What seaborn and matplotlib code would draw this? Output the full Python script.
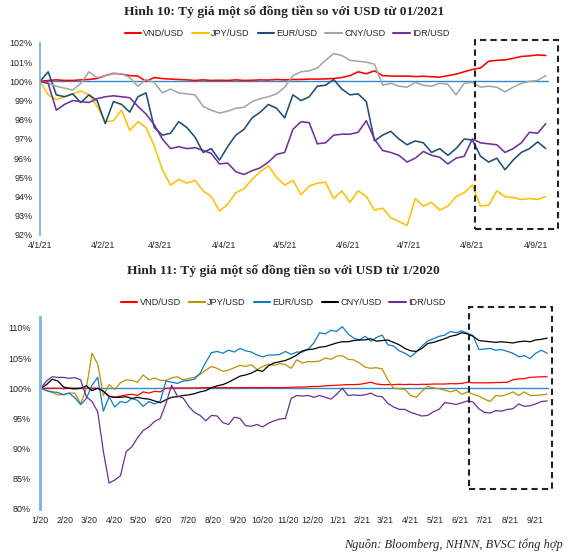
import pandas as pd
import matplotlib
matplotlib.use("Agg")
import matplotlib.pyplot as plt
import matplotlib.dates as mdates
from matplotlib.patches import Rectangle
from matplotlib.ticker import FuncFormatter
import seaborn as sns

# ---------- Hình 10: từ 01/2021 (one point every 4 days) ----------
dates_21 = pd.date_range("2021-01-04", periods=63, freq="4D")

vnd_21 = [100.0, 100.05, 100.08, 100.05, 100.05, 100.08, 100.1, 100.15, 100.3, 100.42,
          100.38, 100.3, 100.28, 100.0, 100.2, 100.15, 100.12, 100.1, 100.08, 100.05,
          100.08, 100.05, 100.06, 100.05, 100.08, 100.05, 100.06, 100.08, 100.07, 100.1,
          100.08, 100.1, 100.1, 100.12, 100.12, 100.13, 100.15, 100.2, 100.3, 100.5,
          100.4, 100.55, 100.3, 100.28, 100.27, 100.28, 100.25, 100.27, 100.24, 100.22,
          100.3, 100.38, 100.5, 100.62, 100.7, 101.05, 101.1, 101.12, 101.2, 101.3,
          101.33, 101.38, 101.35]
jpy_21 = [100.0, 99.3, 99.05, 99.2, 99.35, 99.5, 99.3, 98.7, 97.9, 97.95,
          98.5, 97.45, 97.9, 97.6, 96.65, 95.4, 94.6, 94.9, 94.7, 94.85,
          94.3, 94.0, 93.25, 93.6, 94.2, 94.4, 94.9, 95.3, 95.6, 95.0,
          94.6, 94.85, 94.1, 94.55, 94.7, 94.75, 93.9, 94.3, 93.7, 94.3,
          94.0, 93.3, 93.4, 92.9, 92.7, 92.5, 93.9, 93.5, 93.7, 93.3,
          93.5, 94.0, 94.2, 94.6, 93.5, 93.55, 94.3, 94.0, 93.95, 93.85,
          93.9, 93.85, 94.0]
eur_21 = [100.0, 100.5, 99.3, 99.2, 99.35, 98.9, 99.3, 99.0, 97.8, 98.95,
          98.8, 98.4, 99.2, 99.4, 97.6, 97.2, 97.3, 97.9, 97.6, 97.1,
          96.3, 96.5, 95.9, 96.6, 97.2, 97.5, 98.1, 98.4, 98.8, 98.6,
          98.1, 99.3, 99.0, 99.2, 99.75, 99.8, 100.1, 99.6, 99.3, 99.35,
          98.95, 96.9, 97.2, 97.4, 97.0, 96.7, 96.9, 96.8, 96.3, 96.5,
          96.15, 96.5, 97.0, 96.95, 96.1, 95.8, 96.0, 95.4, 95.9, 96.3,
          96.5, 96.85, 96.5]
cny_21 = [100.0, 99.9, 99.75, 99.65, 99.55, 99.9, 100.5, 100.2, 100.3, 100.4,
          100.4, 100.2, 99.75, 100.1, 99.95, 99.4, 99.6, 99.4, 99.35, 99.3,
          98.7, 98.5, 98.35, 98.45, 98.6, 98.65, 98.95, 99.1, 99.2, 99.35,
          99.7, 100.3, 100.5, 100.55, 100.7, 101.1, 101.45, 101.35, 101.1, 101.05,
          101.0, 100.9, 99.8, 99.9, 99.75, 99.7, 99.95, 99.8, 99.75, 99.9,
          99.85, 99.3, 99.9, 99.95, 99.7, 99.75, 99.7, 99.45, 99.7, 99.9,
          100.0, 100.05, 100.3]
idr_21 = [100.0, 99.9, 98.5, 98.8, 99.0, 98.95, 98.9, 99.1, 99.2, 99.25,
          99.2, 99.15, 98.7, 98.3, 97.75, 97.0, 96.5, 96.6, 96.5, 96.55,
          96.4, 96.25, 95.7, 95.75, 95.3, 95.15, 95.35, 95.5, 95.8, 96.2,
          96.3, 97.5, 97.9, 97.85, 96.75, 96.8, 97.2, 97.25, 97.25, 97.35,
          97.95, 97.0, 96.4, 96.3, 96.15, 95.8, 96.0, 96.35, 96.15, 96.05,
          95.7, 96.0, 96.1, 97.0, 96.8, 96.75, 96.7, 96.3, 96.5, 96.8,
          97.35, 97.3, 97.8]

# ---------- Hình 11: từ 1/2020 (weekly points) ----------
dates_20 = pd.date_range("2020-01-02", periods=90, freq="7D")

vnd_20 = [100.0, 100.0, 100.0, 100.0, 99.95, 100.0, 100.0, 100.0, 100.0, 100.0,
          100.0, 99.5, 98.6, 98.5, 98.7, 98.9, 99.0, 98.8, 99.4, 99.2,
          99.5, 99.4, 100.0, 100.05, 100.05, 100.05, 100.05, 100.05, 100.08, 100.1,
          100.08, 100.1, 100.1, 100.1, 100.08, 100.1, 100.1, 100.12, 100.1, 100.1,
          100.12, 100.1, 100.1, 100.12, 100.15, 100.2, 100.2, 100.25, 100.3, 100.3,
          100.4, 100.45, 100.5, 100.55, 100.6, 100.6, 100.65, 100.8, 101.0, 100.7,
          100.6, 100.6, 100.6, 100.65, 100.6, 100.65, 100.6, 100.65, 100.65, 100.7,
          100.7, 100.7, 100.75, 100.75, 100.8, 101.0, 100.9, 100.9, 100.9, 100.9,
          100.95, 100.95, 101.0, 101.4, 101.55, 101.6, 101.8, 101.85, 101.9, 101.9]
jpy_20 = [100.0, 99.6, 99.3, 98.9, 99.0, 99.2, 99.2, 97.4, 100.0, 105.8,
          104.0, 98.8, 100.6, 99.8, 100.9, 101.4, 101.3, 101.0, 102.2, 101.4,
          101.7, 101.3, 101.3, 101.7, 101.9, 101.4, 101.6, 101.8, 102.3, 103.0,
          103.6, 103.3, 102.8, 103.0, 103.4, 103.8, 103.6, 103.9, 103.1, 103.6,
          104.0, 103.8, 104.1, 103.9, 103.3, 104.7, 104.2, 104.4, 104.4, 104.5,
          105.0, 104.8, 105.3, 105.4, 104.8, 104.7, 104.2, 103.5, 103.3, 103.4,
          103.2, 101.4, 100.0, 99.9, 99.8, 98.8, 98.5, 99.5, 100.3, 100.1,
          99.9, 99.7, 99.4, 99.7, 99.0, 99.4, 99.0, 98.7, 98.2, 97.8,
          98.8, 98.7, 99.0, 99.4, 98.8, 99.4, 98.8, 98.8, 98.9, 99.0]
eur_20 = [100.0, 99.6, 99.4, 99.3, 98.9, 99.2, 98.4, 97.3, 98.3, 100.5,
          101.8, 96.2, 98.6, 96.9, 97.8, 97.6, 98.3, 98.0, 97.0, 97.8,
          97.4, 97.9, 101.2, 101.0, 100.8, 101.2, 101.3, 101.5, 102.5, 104.3,
          105.9, 106.1, 105.8, 106.3, 106.0, 106.6, 106.2, 106.0, 105.5, 105.2,
          105.5, 105.5, 105.6, 106.1, 105.6, 106.0, 106.0, 106.5, 107.5, 109.2,
          109.0, 109.6, 109.4, 110.2, 109.0, 108.3, 108.0, 108.6, 107.8, 108.4,
          108.8, 107.2, 107.0, 106.2, 105.8, 105.2, 106.0, 107.0, 107.8, 108.2,
          108.6, 108.8, 109.4, 109.2, 109.5, 109.1, 108.7, 106.4, 106.5, 106.6,
          106.3, 106.4, 106.1, 105.8, 105.2, 105.4, 104.9, 105.8, 106.3, 105.8]
cny_20 = [100.0, 100.6, 101.5, 101.2, 100.2, 100.0, 99.9, 100.0, 100.4, 99.6,
          100.0, 99.5, 98.7, 98.5, 98.5, 98.6, 98.3, 98.5, 98.3, 98.2,
          97.9, 97.6, 98.1, 98.5, 98.6, 98.8, 98.9, 99.1, 99.4, 99.6,
          100.1, 100.4, 100.6, 101.0, 101.5, 102.0, 102.2, 102.5, 103.0, 102.8,
          103.7, 104.2, 104.4, 104.6, 105.0, 105.5, 106.2, 106.4, 106.5, 106.8,
          106.9, 107.2, 107.5, 107.7, 107.7, 107.9, 108.0, 108.0, 108.2, 107.8,
          107.9, 108.0, 107.6, 107.2, 106.6, 106.2, 106.1, 106.6, 107.4, 107.6,
          107.9, 108.2, 108.6, 108.8, 109.2, 109.0, 108.6, 107.9, 107.8, 107.7,
          107.6, 107.7, 107.6, 107.5, 107.7, 107.8, 107.7, 108.0, 108.1, 108.3]
idr_20 = [100.0, 101.2, 101.9, 101.8, 101.8, 101.65, 101.75, 101.4, 98.6, 97.8,
          96.1, 89.5, 84.3, 84.8, 85.5, 89.5, 90.3, 91.8, 93.0, 93.6,
          94.5, 95.0, 97.5, 100.5, 98.7, 98.4, 97.0, 96.0, 95.5, 94.6,
          95.5, 95.4, 94.3, 94.0, 95.2, 95.0, 93.8, 93.7, 94.0, 93.6,
          94.2, 94.6, 94.9, 95.0, 98.3, 98.8, 98.7, 98.8, 98.5, 98.8,
          98.5, 98.2, 99.0, 100.0, 98.8, 98.9, 98.8, 98.9, 99.2, 98.7,
          98.6, 97.5, 96.9, 96.5, 96.5, 96.0, 95.7, 95.4, 95.5, 96.1,
          96.5, 97.6, 97.5, 97.3, 97.6, 97.9, 97.7, 96.6, 96.0, 95.9,
          96.3, 96.2, 96.5, 96.6, 97.4, 97.0, 97.1, 97.4, 97.8, 97.9]

pairs = ["VND/USD", "JPY/USD", "EUR/USD", "CNY/USD", "IDR/USD"]
colors_21 = {"VND/USD": "#FF0000", "JPY/USD": "#FFC000", "EUR/USD": "#1F4E79",
             "CNY/USD": "#A6A6A6", "IDR/USD": "#7030A0"}
colors_20 = {"VND/USD": "#FF0000", "JPY/USD": "#BF9000", "EUR/USD": "#0A7CC8",
             "CNY/USD": "#000000", "IDR/USD": "#6A2F96"}


def long_table(dates, series):
    df = pd.DataFrame({"date": dates})
    for name, vals in zip(pairs, series):
        df[name] = vals
    return df.melt(id_vars="date", var_name="pair", value_name="value")


df21 = long_table(dates_21, [vnd_21, jpy_21, eur_21, cny_21, idr_21])
df20 = long_table(dates_20, [vnd_20, jpy_20, eur_20, cny_20, idr_20])

sns.set_style("white")
plt.rcParams["font.family"] = ["Liberation Sans", "DejaVu Sans"]
serif = ["Liberation Serif", "DejaVu Serif"]

fig = plt.figure(figsize=(5.71, 5.57), dpi=100)
ax1 = fig.add_axes([40 / 571, 1 - 235 / 557, 518 / 571, 192 / 557])
ax2 = fig.add_axes([40 / 571, 1 - 509 / 557, 512 / 571, 192 / 557])

sns.lineplot(data=df21, x="date", y="value", hue="pair", hue_order=pairs,
             palette=colors_21, linewidth=1.15, ax=ax1)
sns.lineplot(data=df20, x="date", y="value", hue="pair", hue_order=pairs,
             palette=colors_20, linewidth=0.9, ax=ax2)

pct = FuncFormatter(lambda v, _: f"{v:.0f}%")

# chart 1 axes
ax1.set_xlim(pd.Timestamp("2021-01-04"), pd.Timestamp("2021-01-04") + pd.Timedelta(days=254))
ax1.set_ylim(92, 102)
ax1.set_yticks(range(92, 103))
ax1.set_xticks([pd.Timestamp(2021, m, 4) for m in range(1, 10)])
ax1.xaxis.set_major_formatter(mdates.DateFormatter("%-d/%-m/%y"))
ax1.axhline(100, color="#2E8BCF", linewidth=1.0, xmax=(548 - 40) / 518, zorder=1)

# chart 2 axes
ax2.set_xlim(pd.Timestamp("2020-01-01"), pd.Timestamp("2020-01-01") + pd.Timedelta(days=630))
ax2.set_ylim(80, 111.8)
ax2.set_yticks(range(80, 111, 5))
ax2.xaxis.set_major_locator(mdates.MonthLocator())
ax2.xaxis.set_major_formatter(mdates.DateFormatter("%-m/%y"))
ax2.axhline(100, color="#2E8BCF", linewidth=1.0, xmax=(548 - 40) / 512, zorder=1)

for ax, lw, ypad, xpad in [(ax1, 1.3, 5.5, 4.5), (ax2, 2.0, 6.5, 5)]:
    ax.yaxis.set_major_formatter(pct)
    ax.set_xlabel("")
    ax.set_ylabel("")
    for side in ["top", "right", "bottom"]:
        ax.spines[side].set_visible(False)
    ax.spines["left"].set_color("#7FB2DF")
    ax.spines["left"].set_linewidth(lw)
    ax.tick_params(axis="y", length=0, pad=ypad, labelsize=6.5, colors="#262626")
    ax.tick_params(axis="x", length=0, pad=xpad, labelsize=6.3, colors="#262626")
    ax.patch.set_alpha(0)

legend_kw = dict(ncol=5, frameon=False, title=None, fontsize=6.6, handlelength=1.8,
                 handletextpad=0.25, columnspacing=0.85)
sns.move_legend(ax1, "center", bbox_to_anchor=(0.477, 1.05), **legend_kw)
sns.move_legend(ax2, "center", bbox_to_anchor=(0.475, 1.075), **legend_kw)
for ax in [ax1, ax2]:
    for h in ax.get_legend().legend_handles:
        h.set_linewidth(1.5)

# dashed boxes around the latest period
ax1.add_patch(Rectangle((0.840, 0.031), 0.160, 0.985, transform=ax1.transAxes,
                        fill=False, edgecolor="#222222", linewidth=1.5,
                        linestyle=(0, (3, 2)), clip_on=False, zorder=5))
ax2.add_patch(Rectangle((0.838, 0.104), 0.162, 0.948, transform=ax2.transAxes,
                        fill=False, edgecolor="#222222", linewidth=1.5,
                        linestyle=(0, (3, 2)), clip_on=False, zorder=5))

fig.text(0.497, 1 - 12 / 557, "Hình 10: Tỷ giá một số đồng tiền so với USD từ 01/2021",
         ha="center", va="center", fontsize=9.7, fontweight="bold", family=serif)
fig.text(0.497, 1 - 271 / 557, "Hình 11: Tỷ giá một số đồng tiền so với USD từ 1/2020",
         ha="center", va="center", fontsize=9.7, fontweight="bold", family=serif)
fig.text(563 / 571, 1 - 545 / 557, "Nguồn: Bloomberg, NHNN, BVSC tổng hợp",
         ha="right", va="center", fontsize=8.9, style="italic", family=serif)

fig.savefig("out.png", dpi=100)
